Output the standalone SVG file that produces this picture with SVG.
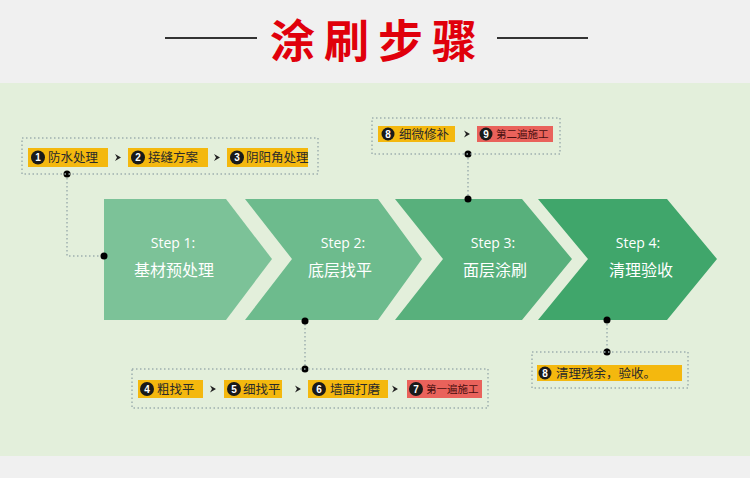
<svg xmlns="http://www.w3.org/2000/svg" width="750" height="478" viewBox="0 0 750 478">
<defs>
<style>
.bg{fill:#f0f0f0}
.panel{fill:#e3efdb}
.title{font-family:"Noto Sans CJK SC","Liberation Sans",sans-serif;font-weight:bold;font-size:45px;fill:#e0000b;letter-spacing:9px}
.rule{stroke:#333;stroke-width:2}
.step{font-family:"Open Sans","Liberation Sans",sans-serif;font-size:14px;fill:#ffffff;text-anchor:middle}
.stepcn{font-family:"Noto Sans CJK SC",sans-serif;font-size:16px;fill:#ffffff;text-anchor:middle}
.frame{fill:none;stroke:#9fb0b0;stroke-width:1.5;stroke-dasharray:1.5 2.5}
.conn{fill:none;stroke:#9fb0b0;stroke-width:1.5;stroke-dasharray:1.5 2.5}
.dot{fill:#000}
.yel{fill:#f4b80e}
.red{fill:#e9625b}
.num{fill:#1a1a1a}
.numt{font-family:"Liberation Sans",sans-serif;font-weight:bold;font-size:10px;fill:#fff;text-anchor:middle}
.lbl{font-family:"Noto Sans CJK SC",sans-serif;font-size:12.5px;fill:#2a2a2a}
.lblr{font-family:"Noto Sans CJK SC",sans-serif;font-size:10.5px;fill:#4a0f0f}
.arr{fill:#222}
</style>
</defs>
<rect class="bg" x="0" y="0" width="750" height="478"/>
<rect class="panel" x="0" y="83" width="750" height="373"/>

<g id="title">
<line class="rule" x1="165" y1="38" x2="257" y2="38"/>
<line class="rule" x1="497" y1="38" x2="588" y2="38"/>
<text class="title" x="270" y="58">涂刷步骤</text>
</g>

<g id="step1">
<polygon points="104,199 226,199 272,259 226,320 104,320" fill="#7cc298"/>
<text class="step" x="173" y="248">Step 1:</text>
<text class="stepcn" x="174" y="276">基材预处理</text>
</g>
<g id="step2">
<polygon points="245,199 378,199 422,259 378,320 245,320 292,259" fill="#6dbb8d"/>
<text class="step" x="343" y="248">Step 2:</text>
<text class="stepcn" x="340" y="276">底层找平</text>
</g>
<g id="step3">
<polygon points="395,199 522,199 572,259 522,320 395,320 443,259" fill="#58b07c"/>
<text class="step" x="493" y="248">Step 3:</text>
<text class="stepcn" x="495" y="276">面层涂刷</text>
</g>
<g id="step4">
<polygon points="538,199 667,199 717,259 667,320 538,320 588,259" fill="#40a66b"/>
<text class="step" x="638" y="248">Step 4:</text>
<text class="stepcn" x="641" y="276">清理验收</text>
</g>

<g id="connectors">
<polyline class="conn" points="67,174 67,256 104,256"/>
<line class="conn" x1="468" y1="154" x2="468" y2="199"/>
<line class="conn" x1="305" y1="320" x2="305" y2="369"/>
<line class="conn" x1="607" y1="320" x2="607" y2="352"/>
<circle class="dot" cx="67" cy="174" r="3.5"/>
<circle class="dot" cx="104" cy="256" r="3.5"/>
<circle class="dot" cx="468" cy="154" r="3.5"/>
<circle class="dot" cx="468" cy="199" r="3.5"/>
<circle class="dot" cx="305" cy="321" r="3.5"/>
<circle class="dot" cx="305" cy="369" r="3.5"/>
<circle class="dot" cx="607" cy="320" r="3.5"/>
<circle class="dot" cx="607" cy="352" r="3.5"/>
</g>

<g id="prep">
<rect class="frame" x="22" y="138" width="296" height="36"/>
<rect class="yel" x="28" y="148" width="80" height="19"/>
<circle class="num" cx="38" cy="157.5" r="7"/><text class="numt" x="38" y="161">1</text>
<text class="lbl" x="48" y="162">防水处理</text>
<path class="arr" d="M115,154 L121,157.5 L115,161 L117,157.5 Z"/>
<rect class="yel" x="128" y="148" width="80" height="19"/>
<circle class="num" cx="138" cy="157.5" r="7"/><text class="numt" x="138" y="161">2</text>
<text class="lbl" x="148" y="162">接缝方案</text>
<path class="arr" d="M214,154 L220,157.5 L214,161 L216,157.5 Z"/>
<rect class="yel" x="227" y="148" width="81" height="19"/>
<circle class="num" cx="237" cy="157.5" r="7"/><text class="numt" x="237" y="161">3</text>
<text class="lbl" x="246" y="162">阴阳角处理</text>
</g>

<g id="finish">
<rect class="frame" x="372" y="118" width="188" height="36"/>
<rect class="yel" x="378" y="126" width="77" height="16"/>
<circle class="num" cx="388" cy="134" r="6.5"/><text class="numt" x="388" y="137.5">8</text>
<text class="lbl" x="399" y="138.5">细微修补</text>
<path class="arr" d="M464,130.5 L470,134 L464,137.5 L466,134 Z"/>
<rect class="red" x="477" y="126" width="76" height="16"/>
<circle class="num" cx="486" cy="134" r="6.5"/><text class="numt" x="486" y="137.5">9</text>
<text class="lblr" x="496" y="138">第二遍施工</text>
</g>

<g id="level">
<rect class="frame" x="132" y="369" width="356" height="39"/>
<rect class="yel" x="138" y="380" width="65" height="18"/>
<circle class="num" cx="147" cy="389" r="7"/><text class="numt" x="147" y="392.5">4</text>
<text class="lbl" x="157" y="393.5">粗找平</text>
<path class="arr" d="M210,385.5 L216,389 L210,392.5 L212,389 Z"/>
<rect class="yel" x="224" y="380" width="58" height="18"/>
<circle class="num" cx="234" cy="389" r="7"/><text class="numt" x="234" y="392.5">5</text>
<text class="lbl" x="243" y="393.5">细找平</text>
<path class="arr" d="M295,385.5 L301,389 L295,392.5 L297,389 Z"/>
<rect class="yel" x="308" y="380" width="80" height="18"/>
<circle class="num" cx="319" cy="389" r="7"/><text class="numt" x="319" y="392.5">6</text>
<text class="lbl" x="330" y="393.5">墙面打磨</text>
<path class="arr" d="M392,385.5 L398,389 L392,392.5 L394,389 Z"/>
<rect class="red" x="407" y="380" width="75" height="18"/>
<circle class="num" cx="416" cy="389" r="7"/><text class="numt" x="416" y="392.5">7</text>
<text class="lblr" x="426" y="393">第一遍施工</text>
</g>

<g id="clean">
<rect class="frame" x="532" y="352" width="156" height="36"/>
<rect class="yel" x="537" y="365" width="145" height="16"/>
<circle class="num" cx="545" cy="373" r="6.5"/><text class="numt" x="545" y="376.5">8</text>
<text class="lbl" x="556" y="377.5">清理残余，验收。</text>
</g>
</svg>
